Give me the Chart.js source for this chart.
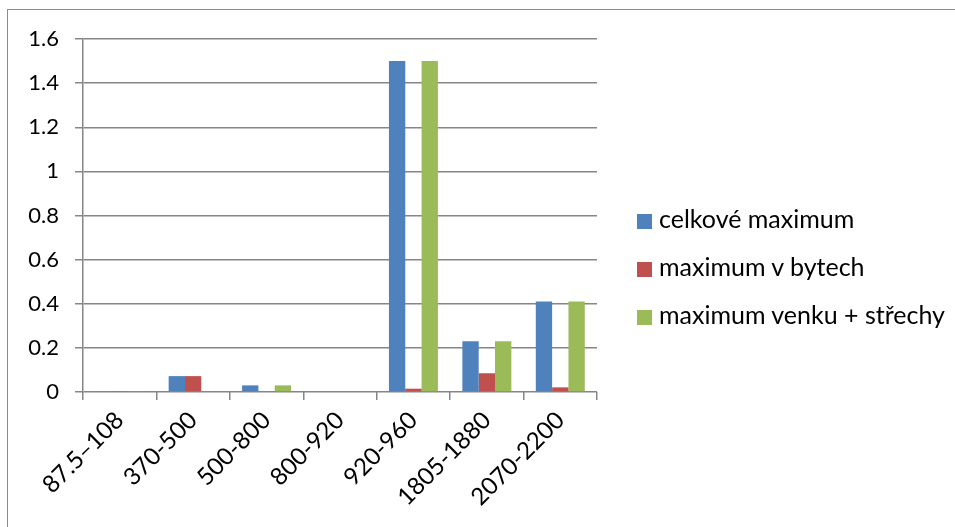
<!DOCTYPE html>
<html>
<head>
<meta charset="utf-8">
<script src="https://cdn.jsdelivr.net/npm/chart.js@4"></script>
<style>
    html, body { margin: 0; padding: 0; background: #fff; }
    #wrap { position: relative; width: 955px; height: 527px; overflow: hidden; }
    #frame { position: absolute; left: 7px; top: 9px; width: 1000px; height: 600px; border: 1.5px solid #8c8c8c; box-sizing: border-box; }
    #chart { position: absolute; left: 0; top: 0; }
    #legend { position: absolute; left: 637px; top: 203px; font-family: Lato, "Open Sans", sans-serif; font-size: 25px; color: #000; }
    #legend div { height: 48px; display: flex; align-items: flex-start; }
    #legend span.box { display: inline-block; width: 15px; height: 15px; margin: 11px 7px 0 0; }
</style>
</head>
<body>
<div id="wrap">
    <div id="frame"></div>
    <canvas id="chart" width="955" height="527"></canvas>
    <div id="legend"></div>
</div>
<script>
const categories = ["87.5\u2013108", "370-500", "500-800", "800-920", "920-960", "1805-1880", "2070-2200"];
const seriesNames = ["celkové maximum", "maximum v bytech", "maximum venku + střechy"];
const seriesColors = ["#4F81BD", "#C0504D", "#9BBB59"];
const celkoveMaximum = [0.004, 0.072, 0.03, 0, 1.5, 0.23, 0.41];
const maximumVBytech = [0.004, 0.072, 0, 0, 0.015, 0.085, 0.021];
const maximumVenku = [0.004, 0, 0.03, 0, 1.5, 0.23, 0.41];
const yTicks = [0, 0.2, 0.4, 0.6, 0.8, 1, 1.2, 1.4, 1.6];

const seriesValues = [celkoveMaximum, maximumVBytech, maximumVenku];
const fontFamily = "Lato, 'Open Sans', sans-serif";

const legend = document.getElementById("legend");
seriesNames.forEach(function (name, i) {
    const row = document.createElement("div");
    const box = document.createElement("span");
    box.className = "box";
    box.style.background = seriesColors[i];
    row.appendChild(box);
    row.appendChild(document.createTextNode(name));
    legend.appendChild(row);
});

const config = {
    type: "bar",
    data: {
        labels: categories,
        datasets: seriesNames.map(function (name, i) {
            return {
                label: name,
                data: seriesValues[i],
                backgroundColor: seriesColors[i],
                borderWidth: 0,
                categoryPercentage: 0.667,
                barPercentage: 1,
            };
        }),
    },
    options: {
        responsive: false,
        animation: false,
        layout: {
            padding: { left: 0, right: 358, top: 39, bottom: 0 },
        },
        plugins: {
            legend: { display: false },
            tooltip: { enabled: false },
        },
        scales: {
            x: {
                grid: {
                    offset: true,
                    drawOnChartArea: false,
                    drawTicks: true,
                    tickLength: 8,
                    color: "#868686",
                    lineWidth: 1.5,
                },
                border: { display: false },
                ticks: {
                    minRotation: 45,
                    maxRotation: 45,
                    padding: 6,
                    color: "#000",
                    font: { family: fontFamily, size: 24 },
                },
                afterFit: function (scale) {
                    scale.height = 135;
                },
            },
            y: {
                min: 0,
                max: 1.6,
                afterBuildTicks: function (scale) {
                    scale.ticks = yTicks.map(function (v) {
                        return { value: v };
                    });
                },
                grid: {
                    color: "#868686",
                    lineWidth: 1.5,
                    tickLength: 8,
                },
                border: { display: true, color: "#868686", width: 1.5 },
                ticks: {
                    padding: 16,
                    color: "#000",
                    font: { family: fontFamily, size: 22 },
                    callback: function (value) {
                        return String(Math.round(value * 10) / 10);
                    },
                },
                afterFit: function (scale) {
                    scale.width = 83;
                },
            },
        },
    },
};

new Chart(document.getElementById("chart"), config);
</script>
</body>
</html>
